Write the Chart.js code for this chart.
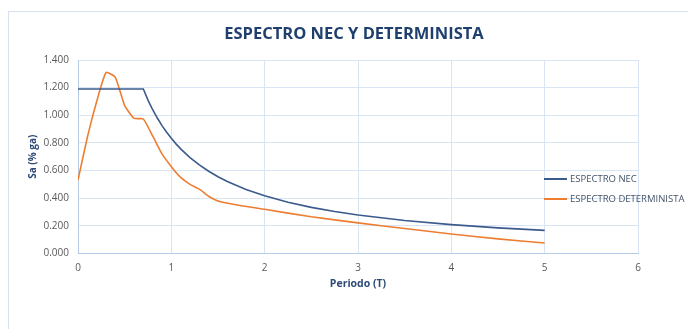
<!DOCTYPE html>
<html>
<head>
<meta charset="utf-8">
<script src="https://cdn.jsdelivr.net/npm/chart.js@4"></script>
<style>
  html, body { margin: 0; padding: 0; background: #fff; }
  #caja { position: absolute; left: 8px; top: 11px; width: 700px; height: 340px; border-left: 1px solid #d6e0ee; border-top: 1px solid #d6e0ee; }
  #lienzo { position: absolute; left: 0; top: 0; }
  #titulo { position: absolute; left: 154px; width: 400px; top: 21px; text-align: center; font: bold 16.5px "Open Sans", sans-serif; color: #1f3f6e; }
  .leyenda { position: absolute; left: 544px; font: 9.5px "Open Sans", sans-serif; color: #44546a; white-space: nowrap; }
  .leyenda span { display: inline-block; width: 23px; height: 0; vertical-align: middle; margin-right: 3px; }
</style>
</head>
<body>
<div id="caja"></div>
<canvas id="lienzo" width="688" height="329"></canvas>
<div id="titulo">ESPECTRO NEC Y DETERMINISTA</div>
<div class="leyenda" style="top:172px"><span style="border-top:2px solid #3b5b8c"></span>ESPECTRO NEC</div>
<div class="leyenda" style="top:192px"><span style="border-top:2px solid #ed7d31"></span>ESPECTRO DETERMINISTA</div>
<script>
// periodos y valores
let periodosNec = [0, 0.1, 0.2, 0.3, 0.4, 0.5, 0.6, 0.7, 0.75, 0.8, 0.85, 0.9, 0.95, 1.0, 1.05, 1.1, 1.2, 1.3, 1.4, 1.5, 1.6, 1.8, 2.0, 2.25, 2.5, 2.75, 3.0, 3.5, 4.0, 4.5, 5.0]
let saNec = [1.19, 1.19, 1.19, 1.19, 1.19, 1.19, 1.19, 1.19, 1.11, 1.04, 0.98, 0.925, 0.877, 0.833, 0.793, 0.757, 0.694, 0.641, 0.595, 0.555, 0.52, 0.463, 0.417, 0.37, 0.333, 0.303, 0.278, 0.238, 0.208, 0.185, 0.167]

let periodosDet = [0, 0.1, 0.2, 0.3, 0.4, 0.5, 0.6, 0.7, 0.8, 0.9, 1.0, 1.1, 1.2, 1.3, 1.4, 1.5, 1.75, 2.0, 2.5, 3.0, 3.5, 4.0, 4.5, 5.0]
let saDet = [0.53, 0.84, 1.10, 1.31, 1.275, 1.07, 0.978, 0.973, 0.85, 0.72, 0.628, 0.55, 0.50, 0.465, 0.414, 0.38, 0.345, 0.319, 0.265, 0.221, 0.18, 0.141, 0.105, 0.075]

let ticksY = [0, 0.2, 0.4, 0.6, 0.8, 1.0, 1.2, 1.4]

function puntos(xs, ys) {
  return xs.map((x, i) => ({ x: x, y: ys[i] }))
}

let colorTexto = '#595959'
let colorGrid = '#d9e4f4'

var ctx = document.getElementById('lienzo').getContext('2d');
window.grafica = new Chart(ctx, {
  type: 'scatter',
  data: {
    datasets: [{
      label: 'ESPECTRO NEC',
      data: puntos(periodosNec, saNec),
      showLine: true,
      borderColor: '#3b5b8c',
      borderWidth: 1.6,
      pointRadius: 0,
      tension: 0
    }, {
      label: 'ESPECTRO DETERMINISTA',
      data: puntos(periodosDet, saDet),
      showLine: true,
      borderColor: '#ed7d31',
      borderWidth: 1.6,
      pointRadius: 0,
      tension: 0.15
    }]
  },
  options: {
    responsive: false,
    animation: false,
    layout: { padding: { left: 0, right: 50, top: 60, bottom: 29 } },
    plugins: {
      legend: { display: false },
      tooltip: { enabled: false },
      title: { display: false }
    },
    scales: {
      x: {
        type: 'linear',
        min: 0,
        max: 6,
        ticks: { stepSize: 1, color: colorTexto, font: { family: 'Open Sans', size: 10 }, padding: 9 },
        grid: { color: colorGrid, drawTicks: false },
        border: { color: '#b7cbe8', width: 1 },
        title: { display: true, text: 'Periodo (T)', color: '#2e4a75', font: { family: 'Open Sans', size: 10.5, weight: 'bold' }, padding: { top: -6, bottom: 10 } }
      },
      y: {
        min: 0,
        max: 1.4,
        afterBuildTicks: (scale) => { scale.ticks = ticksY.map(v => ({ value: v })) },
        afterFit: (scale) => { scale.width = 78 },
        ticks: { color: colorTexto, font: { family: 'Open Sans', size: 10 }, padding: 9, callback: (v) => v.toFixed(3) },
        grid: { color: colorGrid, drawTicks: false },
        border: { color: '#b7cbe8', width: 1 },
        title: { display: true, text: 'Sa (% ga)', color: '#2e4a75', font: { family: 'Open Sans', size: 10, weight: 'bold' }, padding: { top: 27, bottom: 0 } }
      }
    }
  }
});
</script>
</body>
</html>
